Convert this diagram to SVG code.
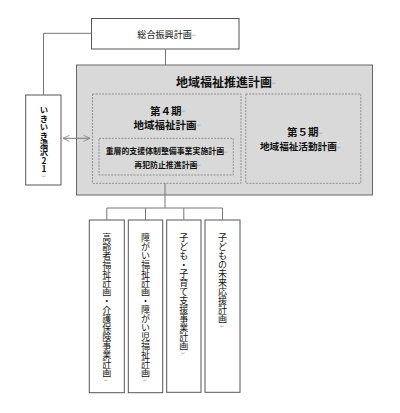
<svg xmlns="http://www.w3.org/2000/svg" width="400" height="413" viewBox="0 0 400 413">
<style>
  .box{fill:#ffffff;stroke:#555555;stroke-width:1}
  .gray{fill:#d9d9d9;stroke:#666666;stroke-width:1}
  .dash{fill:none;stroke:#888888;stroke-width:0.9;stroke-dasharray:2 1.2}
  .conn{fill:none;stroke:#777777;stroke-width:1}
  .t{font-family:"Noto Sans CJK JP","Noto Sans",sans-serif;fill:#111111;dominant-baseline:central}
  .b{font-weight:bold}
  .v{writing-mode:vertical-rl;text-orientation:upright}
  .pm{fill:#aaaaaa;font-size:5px;font-weight:normal}
</style>
<defs>
  <marker id="arr" viewBox="0 0 8 8" refX="7.5" refY="4" markerWidth="8" markerHeight="8" markerUnits="userSpaceOnUse" orient="auto-start-reverse">
    <path d="M1,1 L7.5,4 L1,7" fill="none" stroke="#888888" stroke-width="0.9"/>
  </marker>
</defs>
<rect width="400" height="413" fill="#ffffff"/>

<g id="node-sogo">
  <rect class="box" x="91.5" y="18.5" width="147.5" height="30.5"/>
  <text class="t" x="137.3" y="34" font-size="9.1">総合振興計画<tspan class="pm">↵</tspan></text>
</g>

<g id="node-ikiiki">
  <rect class="box" x="25.7" y="95" width="35.3" height="90"/>
  <text class="t b v" x="44" y="106" font-size="8.4">いきいき湯沢21<tspan class="pm">↵</tspan></text>
</g>

<g id="node-suishin">
  <rect class="gray" x="76.5" y="65" width="296" height="130"/>
  <text class="t b" x="176" y="81.7" font-size="12">地域福祉推進計画<tspan class="pm">↵</tspan></text>
</g>

<g id="node-dai4">
  <rect class="dash" x="92.5" y="94" width="148.5" height="89.3"/>
  <text class="t b" x="150" y="110" font-size="10.5">第４期<tspan class="pm">↵</tspan></text>
  <text class="t b" x="133.5" y="124.3" font-size="10.5">地域福祉計画<tspan class="pm">↵</tspan></text>
</g>

<g id="node-jusou">
  <rect class="dash" x="99" y="138.3" width="134.3" height="36.7"/>
  <text class="t b" x="105.7" y="150.7" font-size="7.9">重層的支援体制整備事業実施計画<tspan class="pm">↵</tspan></text>
  <text class="t b" x="134.3" y="164.3" font-size="7.9">再犯防止推進計画<tspan class="pm">↵</tspan></text>
</g>

<g id="node-dai5">
  <rect class="dash" x="245.8" y="94" width="115" height="89.3"/>
  <text class="t b" x="287" y="131.5" font-size="10.5">第５期<tspan class="pm">↵</tspan></text>
  <text class="t b" x="260" y="145.5" font-size="9.6">地域福祉活動計画<tspan class="pm">↵</tspan></text>
</g>

<g id="node-koureisha">
  <rect class="box" x="89.3" y="220" width="35" height="172.7"/>
  <text class="t v" x="106.8" y="233" font-size="9">高齢者福祉計画・介護保険事業計画<tspan class="pm">↵</tspan></text>
</g>

<g id="node-shougai">
  <rect class="box" x="128.3" y="220" width="34.4" height="172.7"/>
  <text class="t v" x="145.5" y="233" font-size="9">障がい福祉計画・障がい児福祉計画<tspan class="pm">↵</tspan></text>
</g>

<g id="node-kosodate">
  <rect class="box" x="166.7" y="220" width="34.3" height="172.3"/>
  <text class="t v" x="183.8" y="233" font-size="9">子ども・子育て支援事業計画<tspan class="pm">↵</tspan></text>
</g>

<g id="node-mirai">
  <rect class="box" x="205" y="220" width="35" height="172.3"/>
  <text class="t v" x="222.5" y="233" font-size="9">子どもの未来応援計画<tspan class="pm">↵</tspan></text>
</g>

<g id="connectors">
  <polyline class="conn" points="91.5,33.3 43.5,33.3 43.5,95"/>
  <line class="conn" x1="165.5" y1="49" x2="165.5" y2="65"/>
  <line class="conn" x1="63" y1="138.3" x2="90" y2="138.3" stroke="#888888" marker-start="url(#arr)" marker-end="url(#arr)"/>
  <line class="conn" x1="165" y1="183.3" x2="165" y2="208"/>
  <polyline class="conn" points="106.8,220 106.8,208 222.5,208 222.5,220"/>
  <line class="conn" x1="145.5" y1="208" x2="145.5" y2="220"/>
  <line class="conn" x1="183.8" y1="208" x2="183.8" y2="220"/>
</g>
</svg>
